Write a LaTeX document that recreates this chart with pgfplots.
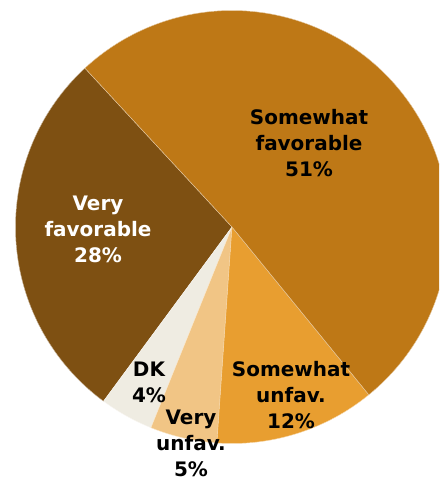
\documentclass[border=0pt]{standalone}
\usepackage{pgfplots}
\pgfplotsset{compat=1.18}
\usepackage{pgfplotstable}
\usepackage{fontspec}
\setmainfont{DejaVu Sans}
\definecolor{c0}{HTML}{7E5012}% Very favorable
\definecolor{c1}{HTML}{EFECE2}% DK
\definecolor{c2}{HTML}{F1C585}% Very unfav.
\definecolor{c3}{HTML}{E89E30}% Somewhat unfav.
\definecolor{c4}{HTML}{BE7816}% Somewhat favorable
\pgfplotstableread{
label value
VF 28
DK 4
VU 5
SU 12
SF 51
}\piedata
\begin{document}
\begin{tikzpicture}
\xdef\cum{132.8}
\foreach \i in {0,...,4} {
  \pgfplotstablegetelem{\i}{value}\of\piedata
  \pgfmathsetmacro\e{\cum+3.6*\pgfplotsretval}
  \expandafter\xdef\csname sa\i\endcsname{\cum}
  \expandafter\xdef\csname ea\i\endcsname{\e}
  \xdef\cum{\e}
}
\begin{axis}[name=ax, hide axis, x=1cm, y=1cm, scale only axis,
  xmin=-5.8, xmax=5.175, ymin=-6.35, ymax=5.675, clip=true]
\pgfplotsinvokeforeach{0,...,4}{
  \fill[c#1, draw=white!60!c#1, line width=0.3pt] (axis cs:0,0) -- (axis cs:{5.4125*cos(\csname sa#1\endcsname)},{5.4125*sin(\csname sa#1\endcsname)})
    arc[start angle=\csname sa#1\endcsname, end angle=\csname ea#1\endcsname, radius=5.4125] -- cycle;
}
\tikzset{lab/.style={align=center, inner sep=1pt, font=\bfseries\fontsize{14.2}{18.5}\selectfont}}
\node[lab] at (axis cs:1.925,2.1) {Somewhat\\favorable\\51\%};
\node[lab, white] at (axis cs:-3.35,-0.05) {Very\\favorable\\28\%};
\node[lab] at (axis cs:-2.075,-3.875) {DK\\4\%};
\node[lab] at (axis cs:-1.025,-5.42) {Very\\unfav.\\5\%};
\node[lab] at (axis cs:1.475,-4.2) {Somewhat\\unfav.\\12\%};
\end{axis}
\pgfresetboundingbox
\path[use as bounding box] (ax.south west) rectangle (ax.north east);
\end{tikzpicture}
\end{document}
